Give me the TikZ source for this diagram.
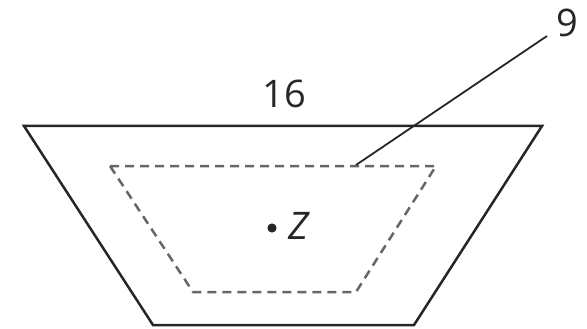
\documentclass[tikz,border=0pt]{standalone}
\usepackage{fontspec}
\setmainfont{Open Sans}
\begin{document}
\begin{tikzpicture}[x=1pt,y=-1pt,
  outerline/.style={line width=2.5pt,draw=black!85},
  innerline/.style={line width=2.5pt,draw=black!60,dash pattern=on 9pt off 6pt},
  leader/.style={line width=1.8pt,draw=black!85},
  lbl/.style={font=\fontsize{38}{41}\selectfont,text=black!85,inner sep=0pt}]
\useasboundingbox (0,0) rectangle (587,329);
% outer trapezoid
\coordinate (o1) at (24,126);
\coordinate (o2) at (542,126);
\coordinate (o3) at (414,325);
\coordinate (o4) at (153,325);
\draw[outerline,line join=miter] (o1) -- (o2) -- (o3) -- (o4) -- cycle;
% inner dashed trapezoid
\coordinate (i1) at (110,166);
\coordinate (i2) at (436,166);
\coordinate (i3) at (356,292);
\coordinate (i4) at (193,292);
\draw[innerline] (i1) -- (i2) -- (i3) -- (i4) -- cycle;
% labels
\node[lbl] (top) at (284,94) {16};
\node[lbl] (nine) at (567,23) {9};
\node[lbl,anchor=west] (zlab) at (288,226) {\itshape Z};
\fill[black!85] (272,228) circle (4.6pt);
% leader
\coordinate (lstart) at (356,165);
\coordinate (lend) at (547,36);
\draw[leader] (lstart) -- (lend);
\end{tikzpicture}
\end{document}
